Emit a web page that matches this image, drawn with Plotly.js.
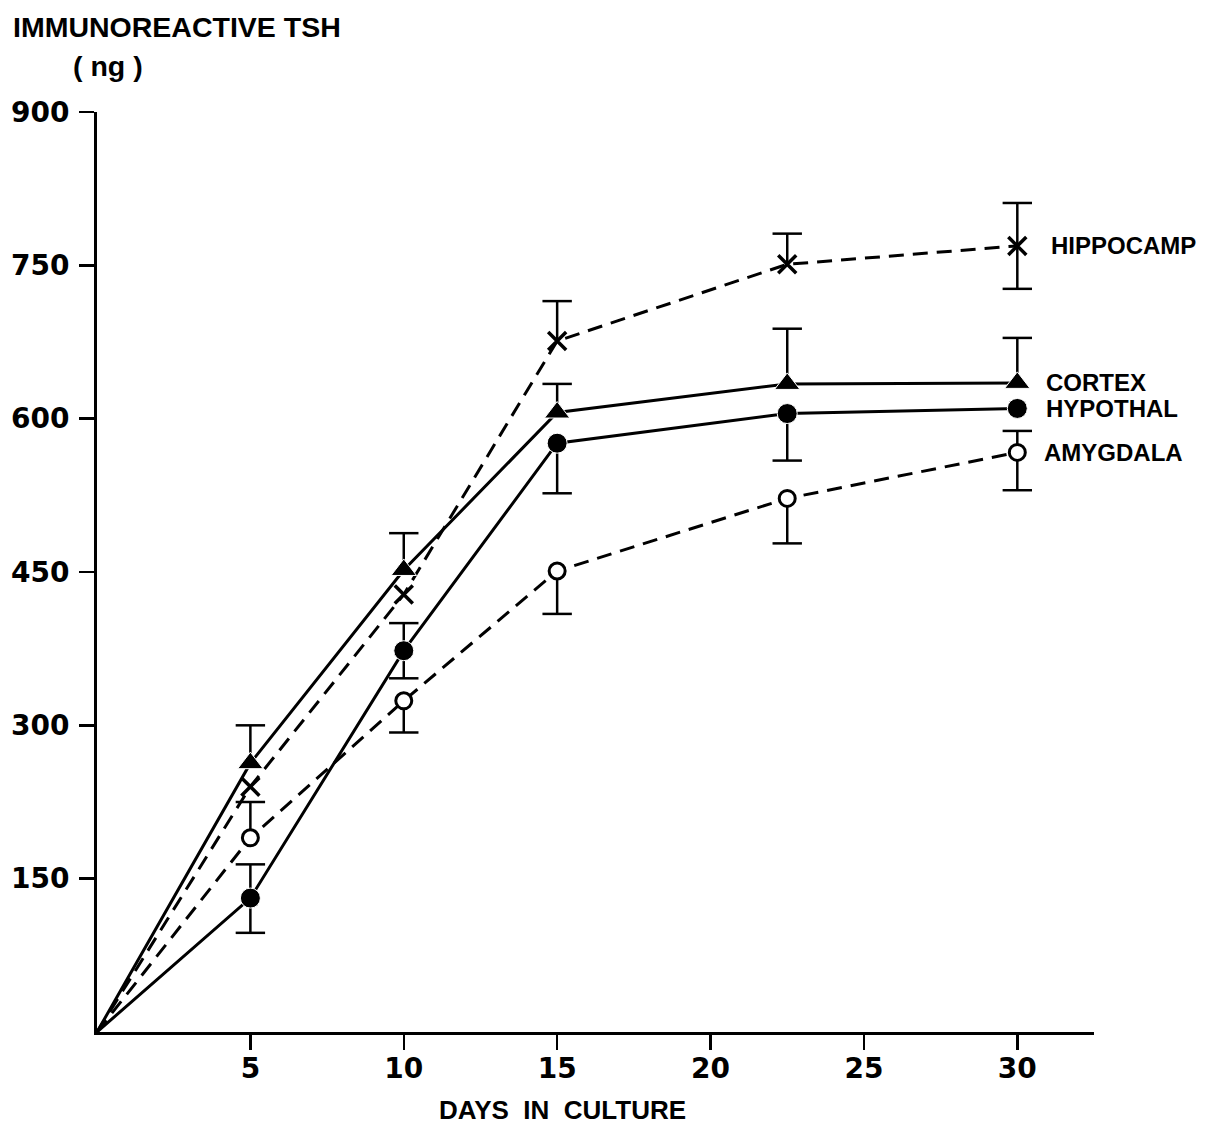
<!DOCTYPE html>
<html><head><meta charset="utf-8">
<script src="https://cdn.plot.ly/plotly-3.0.1.min.js"></script>
<style>html,body{margin:0;padding:0;background:#fff}#chart{width:1214px;height:1124px}</style>
</head><body><div id="chart"></div>
<script>
// ---- data ----
const days = [0, 5, 10, 15, 22.5, 30];

const seriesNames = ["HIPPOCAMP", "CORTEX", "HYPOTHAL", "AMYGDALA"];

const hippocamp      = [0, 240, 428, 676, 751, 769];
const hippocampPlus  = [0, 0, 0, 39, 30, 42];
const hippocampMinus = [0, 0, 0, 0, 0, 42];

const cortex      = [0, 263, 452, 606, 634, 635];
const cortexPlus  = [0, 37, 36, 28, 54, 44];
const cortexMinus = [0, 0, 0, 0, 0, 0];

const hypothal      = [0, 131, 373, 576, 605, 610];
const hypothalPlus  = [0, 33, 27, 0, 0, 0];
const hypothalMinus = [0, 34, 27, 49, 46, 0];

const amygdala      = [0, 190, 324, 451, 522, 567];
const amygdalaPlus  = [0, 35, 0, 0, 0, 21];
const amygdalaMinus = [0, 0, 31, 42, 44, 37];

const xTickVals = [5, 10, 15, 20, 25, 30];
const yTickVals = [150, 300, 450, 600, 750, 900];

// ---- build error bars (stems + caps) from the data ----
const stemX = [], stemY = [], capX = [], capY = [];
function addErrors(ys, plus, minus) {
  days.forEach((x, i) => {
    if (plus[i] > 0) {
      stemX.push(x, x, null); stemY.push(ys[i], ys[i] + plus[i], null);
      capX.push(x); capY.push(ys[i] + plus[i]);
    }
    if (minus[i] > 0) {
      stemX.push(x, x, null); stemY.push(ys[i], ys[i] - minus[i], null);
      capX.push(x); capY.push(ys[i] - minus[i]);
    }
  });
}
addErrors(hippocamp, hippocampPlus, hippocampMinus);
addErrors(cortex, cortexPlus, cortexMinus);
addErrors(hypothal, hypothalPlus, hypothalMinus);
addErrors(amygdala, amygdalaPlus, amygdalaMinus);

const black = '#000';
const dashPat = '15px,9px';
// no marker drawn at the origin point
const sizes = s => days.map(d => (d === 0 ? 0 : s));

const traces = [
  {x: stemX, y: stemY, mode: 'lines', line: {color: black, width: 2.5}, hoverinfo: 'skip', showlegend: false},
  {x: capX, y: capY, mode: 'markers', marker: {symbol: 'line-ew', size: 21, opacity: 1, line: {color: black, width: 2.5}}, hoverinfo: 'skip', showlegend: false},
  {x: days, y: hippocamp, name: seriesNames[0], mode: 'lines+markers',
   line: {color: black, width: 3, dash: dashPat},
   marker: {symbol: 'x-thin', size: sizes(18), opacity: 1, color: black, line: {color: black, width: 3.5}}},
  {x: days, y: amygdala, name: seriesNames[3], mode: 'lines+markers',
   line: {color: black, width: 3, dash: dashPat},
   marker: {symbol: 'circle', size: sizes(16), opacity: 1, color: '#fff', line: {color: black, width: 3}}},
  {x: days, y: cortex, name: seriesNames[1], mode: 'lines+markers',
   line: {color: black, width: 3},
   marker: {symbol: 'triangle-up', size: sizes(22), opacity: 1, color: black}},
  {x: days, y: hypothal, name: seriesNames[2], mode: 'lines+markers',
   line: {color: black, width: 3},
   marker: {symbol: 'circle', size: sizes(20), opacity: 1, color: black}},
];

const labelFont = {family: 'Liberation Sans, Arial, sans-serif', size: 24, color: black, weight: 'bold'};
const lastIdx = days.length - 1;
const seriesLast = [hippocamp[lastIdx], cortex[lastIdx], hypothal[lastIdx], amygdala[lastIdx]];
const labelShift = [32, 27, 27, 25];

const annotations = seriesNames.map((n, k) => ({
  x: days[lastIdx], y: seriesLast[k], xref: 'x', yref: 'y', text: n,
  showarrow: false, xanchor: 'left', yanchor: 'middle', xshift: labelShift[k],
  font: labelFont
}));

annotations.push({
  x: 0, y: 1, xref: 'x', yref: 'paper', text: 'IMMUNOREACTIVE TSH', showarrow: false,
  xanchor: 'left', yanchor: 'middle', xshift: -86, yshift: 85,
  font: {family: 'Liberation Sans, Arial, sans-serif', size: 28.5, color: black, weight: 'bold'}
});
annotations.push({
  x: 0, y: 1, xref: 'x', yref: 'paper', text: '( ng )', showarrow: false,
  xanchor: 'center', yanchor: 'middle', xshift: 11, yshift: 46,
  font: {family: 'Liberation Sans, Arial, sans-serif', size: 28.5, color: black, weight: 'bold'}
});
annotations.push({
  x: 15, y: 0, xref: 'x', yref: 'paper', text: 'DAYS  IN  CULTURE', showarrow: false,
  xanchor: 'center', yanchor: 'middle', xshift: 5, yshift: -78,
  font: {family: 'Liberation Sans, Arial, sans-serif', size: 26, color: black, weight: 'bold'}
});

const tickFont = {family: 'DejaVu Sans, sans-serif', size: 28, color: black, weight: 'bold'};

const layout = {
  width: 1214, height: 1124,
  margin: {l: 97, r: 120, t: 112, b: 92},
  paper_bgcolor: '#fff', plot_bgcolor: '#fff',
  showlegend: false,
  xaxis: {
    range: [0, 32.5], showgrid: false, zeroline: false,
    showline: true, linecolor: black, linewidth: 3,
    ticks: 'outside', ticklen: 15, tickwidth: 2.5, tickcolor: black,
    tickvals: xTickVals, ticktext: xTickVals.map(String),
    tickfont: tickFont, ticklabelstandoff: -6
  },
  yaxis: {
    range: [0, 900], showgrid: false, zeroline: false,
    showline: true, linecolor: black, linewidth: 3,
    ticks: 'outside', ticklen: 15, tickwidth: 2.5, tickcolor: black,
    tickvals: yTickVals, ticktext: yTickVals.map(String),
    tickfont: tickFont, ticklabelstandoff: 4
  },
  annotations: annotations
};

Plotly.newPlot('chart', traces, layout, {displayModeBar: false, staticPlot: true});
</script>
</body></html>
